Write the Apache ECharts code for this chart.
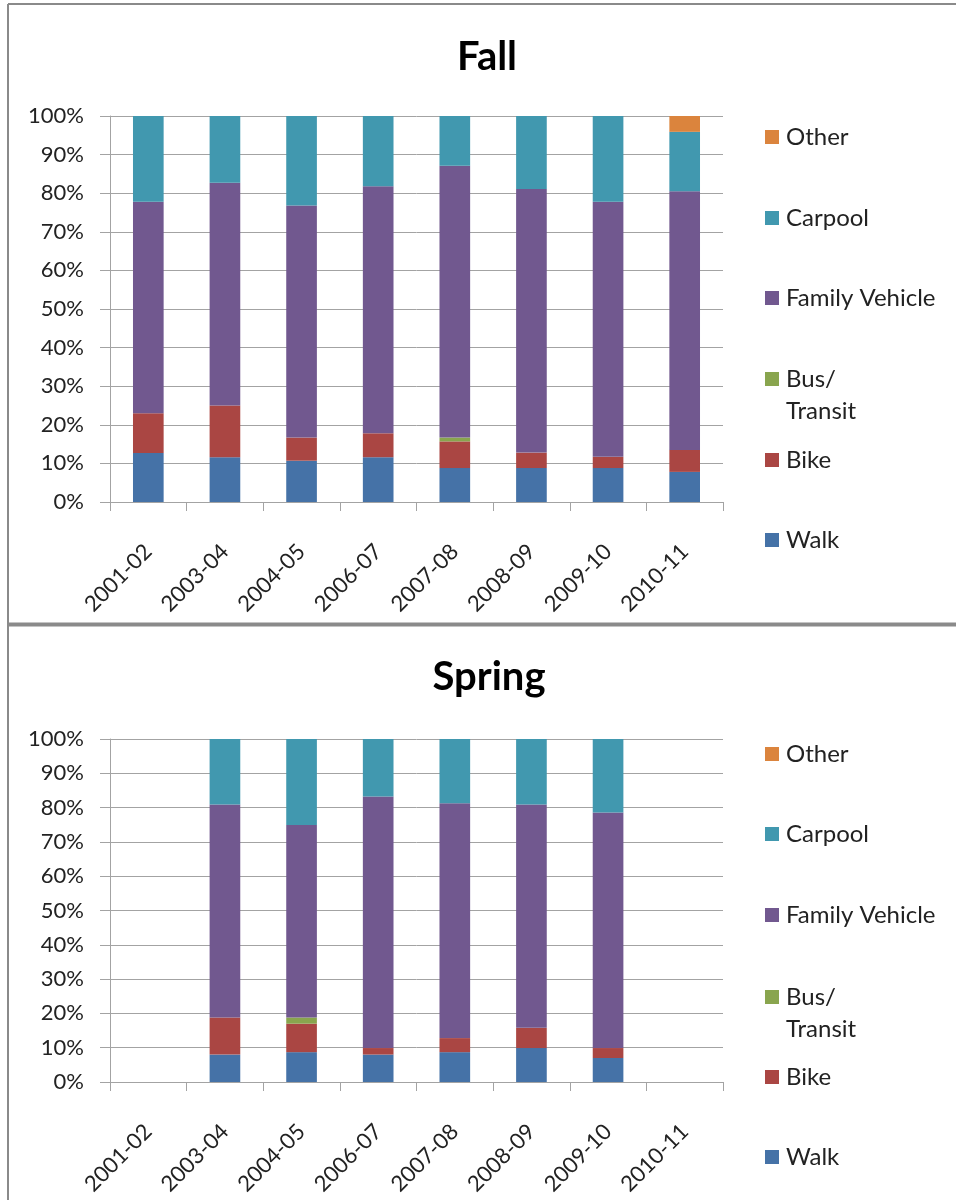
<!DOCTYPE html>
<html>
<head>
<meta charset="utf-8">
<script src="https://cdn.jsdelivr.net/npm/echarts@6/dist/echarts.min.js"></script>
<style>
html,body{margin:0;padding:0;background:#fff;}
#c{width:956px;height:1200px;}
</style>
</head>
<body>
<div id="c"></div>
<script>
const categories = ['2001-02','2003-04','2004-05','2006-07','2007-08','2008-09','2009-10','2010-11'];
const seriesNames = ['Walk','Bike','Bus/ Transit','Family Vehicle','Carpool','Other'];
const seriesColors = ['#4572A7','#AA4643','#89A54E','#71588F','#4198AF','#DB843D'];
const yTicks = [0,10,20,30,40,50,60,70,80,90,100];

const fallWalk    = [12.7, 11.6, 10.7, 11.6, 8.8, 8.8, 8.8, 7.8];
const fallBike    = [10.3, 13.4, 6.0, 6.2, 6.9, 4.0, 2.9, 5.7];
const fallBus     = [0, 0, 0, 0, 1.0, 0, 0, 0];
const fallFamily  = [54.8, 57.7, 60.1, 64.0, 70.4, 68.3, 66.1, 67.0];
const fallCarpool = [22.2, 17.3, 23.2, 18.2, 12.9, 18.9, 22.2, 15.4];
const fallOther   = [0, 0, 0, 0, 0, 0, 0, 4.1];

const springWalk    = [null, 8.0, 8.7, 8.0, 8.7, 9.9, 7.0, null];
const springBike    = [null, 10.8, 8.3, 1.9, 4.1, 5.9, 2.9, null];
const springBus     = [null, 0, 1.8, 0, 0, 0, 0, null];
const springFamily  = [null, 62.1, 56.1, 73.3, 68.5, 65.1, 68.7, null];
const springCarpool = [null, 19.1, 25.1, 16.8, 18.7, 19.1, 21.4, null];
const springOther   = [null, 0, 0, 0, 0, 0, 0, null];

const fallData = [fallWalk, fallBike, fallBus, fallFamily, fallCarpool, fallOther];
const springData = [springWalk, springBike, springBus, springFamily, springCarpool, springOther];

const FONT = 'Lato';
const TXT = '#222';
const GRID_C = '#a3a3a3';

function xAxisCfg(gi){
  return {
    type:'category', gridIndex:gi, data:categories, boundaryGap:true,
    axisLine:{show:true, lineStyle:{color:GRID_C, width:1}},
    axisTick:{show:true, length:9, interval:0, alignWithLabel:false, lineStyle:{color:GRID_C}},
    axisLabel:{interval:0, rotate:45, margin:46, fontFamily:FONT, fontSize:22, color:TXT}
  };
}
function yAxisCfg(gi){
  return {
    type:'value', gridIndex:gi, min:yTicks[0], max:yTicks[yTicks.length-1], interval:10,
    axisLine:{show:true, lineStyle:{color:GRID_C, width:1}},
    axisTick:{show:true, length:10, lineStyle:{color:GRID_C}},
    splitLine:{show:true, lineStyle:{color:GRID_C, width:1}},
    axisLabel:{formatter:'{value}%', margin:26, fontFamily:FONT, fontSize:22, color:TXT}
  };
}

const series = [];
[fallData, springData].forEach((set, gi) => {
  set.forEach((arr, si) => {
    series.push({
      type:'bar', name:seriesNames[si], stack: gi===0?'fall':'spring',
      xAxisIndex:gi, yAxisIndex:gi, data:arr, barWidth:'40%',
      itemStyle:{color:seriesColors[si]}, animation:false
    });
  });
});

// legend icon centres per panel, top-to-bottom order
const legendOrder = ['Other','Carpool','Family Vehicle','Bus/ Transit','Bike','Walk'];
const fallLegendY = [137, 218, 298, 379, 460, 540];
const springLegendY = [754, 834, 915, 997, 1077, 1157];
const LH = 28;
const LH_BUS = 32;
const legends = [];
[fallLegendY, springLegendY].forEach(ys => {
  legendOrder.forEach((nm, i) => {
    const isBus = nm === 'Bus/ Transit';
    legends.push({
      data:[nm], left:765, top: isBus ? ys[i] - 1.5*LH_BUS : ys[i] - LH/2,
      orient:'vertical', padding:0, itemWidth:14, itemHeight:14, icon:'rect',
      selectedMode:false,
      formatter: n => n === 'Bus/ Transit' ? ' \nBus/\nTransit' : n,
      textStyle:{fontFamily:FONT, fontSize:24, color:TXT, lineHeight: isBus ? LH_BUS : LH,
        padding:[0,0,0,2]}
    });
  });
});

const chart = echarts.init(document.getElementById('c'), null, {renderer:'canvas'});
chart.setOption({
  animation:false,
  backgroundColor:'#fff',
  grid:[
    {left:110, top:116, width:613, height:386},
    {left:110, top:739, width:613, height:343}
  ],
  xAxis:[xAxisCfg(0), xAxisCfg(1)],
  yAxis:[yAxisCfg(0), yAxisCfg(1)],
  legend: legends,
  series: series,
  graphic:[
    {type:'line', shape:{x1:8, y1:4, x2:956, y2:4}, style:{stroke:'#8a8a8a', lineWidth:2}, silent:true},
    {type:'line', shape:{x1:8, y1:4, x2:8, y2:1200}, style:{stroke:'#8a8a8a', lineWidth:2}, silent:true},
    {type:'line', shape:{x1:8, y1:624.5, x2:956, y2:624.5}, style:{stroke:'#8a8a8a', lineWidth:4}, silent:true},
    {type:'text', x:487, y:57.5, style:{text:'Fall', font:'bold 40px Lato', fill:'#000', textAlign:'center', textVerticalAlign:'middle'}, silent:true},
    {type:'text', x:489, y:677, style:{text:'Spring', font:'bold 40px Lato', fill:'#000', textAlign:'center', textVerticalAlign:'middle'}, silent:true}
  ]
});
</script>
</body>
</html>
